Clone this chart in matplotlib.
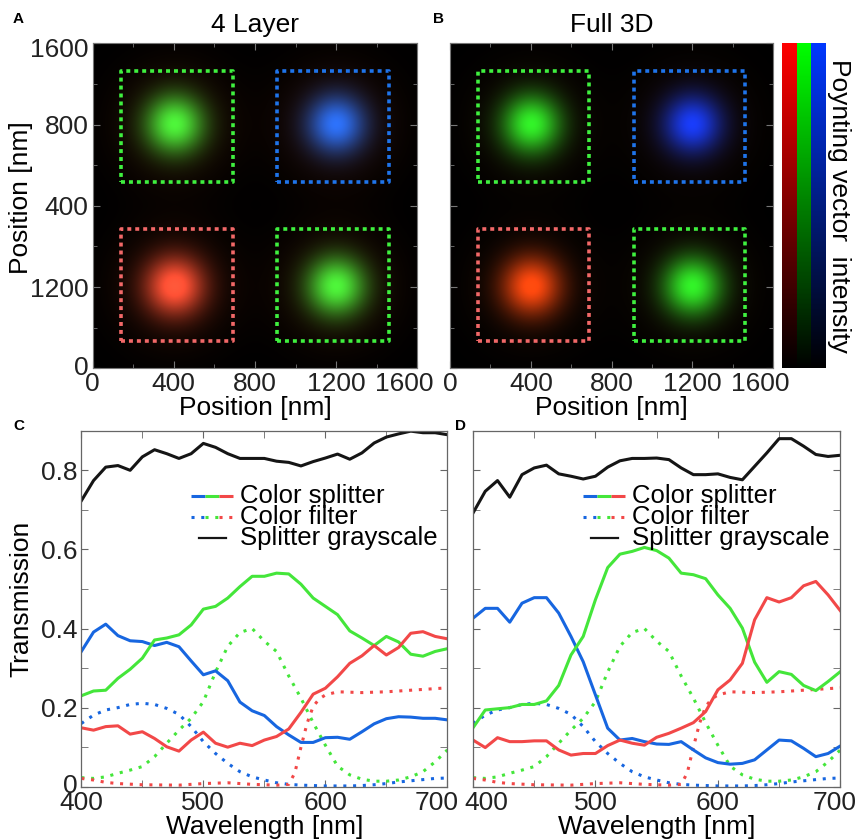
import numpy as np
import matplotlib as mpl
import matplotlib.pyplot as plt
from matplotlib.transforms import ScaledTranslation
from matplotlib.ticker import MultipleLocator

mpl.rcParams['font.family'] = ['Liberation Sans', 'DejaVu Sans']

# --- field maps: spot centres [nm], peak colours, detector boxes ---
spot_x = [400, 1200, 400, 1200]
spot_y = [1200, 1200, 400, 400]
spot_rgb_4layer = [(0.15, 0.92, 0.22), (0.02, 0.40, 0.98), (0.95, 0.30, 0.22), (0.15, 0.92, 0.22)]
spot_rgb_full3d = [(0.10, 0.92, 0.15), (0.00, 0.20, 0.98), (0.95, 0.26, 0.05), (0.10, 0.92, 0.15)]
halo_rgb_4layer = (0.16, 0.05, 0.01)
halo_rgb_full3d = (0.10, 0.04, 0.01)
spot_sigma = 100
halo_sigma = 190
box_x0 = [140, 910, 140, 910]
box_y0 = [915, 915, 135, 135]
box_size = 550
box_colors = ['#3ff03f', '#1f74ea', '#f26868', '#3ff03f']

pos_ticks = [0, 400, 800, 1200, 1600]
pos_xlabels = ['0', '400', '800', '1200', '1600']
pos_ylabels = ['0', '1200', '400', '800', '1600']

# --- transmission spectra ---
wl = list(range(400, 701, 10))
gray_c = [0.723, 0.774, 0.808, 0.812, 0.800, 0.834, 0.852, 0.842, 0.830, 0.842, 0.868,
          0.858, 0.842, 0.830, 0.830, 0.830, 0.823, 0.820, 0.811, 0.822, 0.831, 0.841,
          0.828, 0.844, 0.869, 0.884, 0.892, 0.899, 0.895, 0.895, 0.890]
blue_c = [0.342, 0.391, 0.411, 0.382, 0.369, 0.367, 0.357, 0.365, 0.354, 0.318, 0.283,
          0.293, 0.268, 0.214, 0.192, 0.180, 0.152, 0.131, 0.112, 0.112, 0.124, 0.125,
          0.120, 0.139, 0.159, 0.172, 0.177, 0.176, 0.173, 0.173, 0.169]
green_c = [0.230, 0.242, 0.244, 0.274, 0.297, 0.325, 0.371, 0.376, 0.384, 0.409, 0.449,
           0.456, 0.477, 0.506, 0.532, 0.532, 0.540, 0.538, 0.512, 0.477, 0.456, 0.435,
           0.394, 0.376, 0.357, 0.380, 0.366, 0.335, 0.330, 0.342, 0.349]
red_c = [0.149, 0.143, 0.152, 0.154, 0.133, 0.139, 0.122, 0.101, 0.090, 0.118, 0.138,
         0.110, 0.100, 0.110, 0.104, 0.118, 0.127, 0.146, 0.188, 0.234, 0.249, 0.278,
         0.312, 0.331, 0.357, 0.333, 0.352, 0.388, 0.392, 0.380, 0.374]

gray_d = [0.692, 0.747, 0.774, 0.732, 0.789, 0.806, 0.813, 0.791, 0.785, 0.778, 0.785,
          0.808, 0.824, 0.830, 0.830, 0.831, 0.827, 0.806, 0.789, 0.789, 0.791, 0.782,
          0.776, 0.810, 0.844, 0.880, 0.880, 0.861, 0.840, 0.835, 0.838]
blue_d = [0.426, 0.451, 0.451, 0.416, 0.464, 0.478, 0.478, 0.439, 0.380, 0.316, 0.232,
          0.148, 0.118, 0.122, 0.114, 0.108, 0.107, 0.114, 0.093, 0.073, 0.061, 0.057,
          0.059, 0.068, 0.093, 0.118, 0.116, 0.097, 0.076, 0.084, 0.103]
green_d = [0.149, 0.194, 0.197, 0.200, 0.208, 0.208, 0.217, 0.256, 0.333, 0.380, 0.473,
           0.554, 0.588, 0.595, 0.605, 0.597, 0.578, 0.540, 0.536, 0.526, 0.485, 0.451,
           0.401, 0.315, 0.264, 0.291, 0.284, 0.256, 0.243, 0.266, 0.291]
red_d = [0.118, 0.099, 0.124, 0.114, 0.114, 0.116, 0.116, 0.093, 0.080, 0.084, 0.084,
         0.104, 0.118, 0.110, 0.105, 0.125, 0.135, 0.148, 0.162, 0.190, 0.245, 0.270,
         0.312, 0.422, 0.478, 0.467, 0.478, 0.508, 0.519, 0.485, 0.445]

# colour filter reference curves (same in C and D)
filt_blue = [0.160, 0.181, 0.194, 0.200, 0.208, 0.211, 0.208, 0.198, 0.183, 0.152, 0.114,
             0.084, 0.059, 0.038, 0.025, 0.017, 0.010, 0.006, 0.004, 0.003, 0.002, 0.002,
             0.002, 0.003, 0.005, 0.008, 0.012, 0.015, 0.018, 0.021, 0.022]
filt_green = [0.023, 0.021, 0.025, 0.034, 0.042, 0.051, 0.076, 0.110, 0.143, 0.173, 0.215,
              0.290, 0.355, 0.390, 0.400, 0.368, 0.342, 0.280, 0.224, 0.162, 0.105, 0.052,
              0.030, 0.019, 0.014, 0.014, 0.017, 0.025, 0.038, 0.063, 0.093]
red_filt_wl = [400, 410, 420, 430, 450, 480, 500, 520, 540, 560, 570, 575, 580, 585,
               590, 595, 600, 610, 630, 650, 670, 690, 700]
filt_red = [0.021, 0.017, 0.011, 0.008, 0.005, 0.004, 0.008, 0.010, 0.006, 0.004, 0.006,
            0.035, 0.100, 0.160, 0.203, 0.222, 0.232, 0.240, 0.238, 0.240, 0.244, 0.248, 0.250]

BLUE, GREEN, RED = '#1766e0', '#44e63a', '#f24848'
LW = 2.2
DOTS = (1.0, 2.2)
TICK_FS = 19
LABEL_FS = 19


def field_map(rgbs, halo):
    g = np.linspace(0, 1600, 160)
    xx, yy = np.meshgrid(g, g)
    img = np.zeros((160, 160, 3))
    for sx, sy, rgb in zip(spot_x, spot_y, rgbs):
        r2 = (xx - sx) ** 2 + (yy - sy) ** 2
        core = np.exp(-r2 / (2 * spot_sigma ** 2))
        glow = np.exp(-r2 / (2 * halo_sigma ** 2))
        img += np.array(rgb) * core[..., None] + np.array(halo) * glow[..., None]
    return np.clip(img, 0, 1)


def shift(label, dx=0, dy=0):
    fig = label.figure
    label.set_transform(label.get_transform() + ScaledTranslation(dx / 100, dy / 100, fig.dpi_scale_trans))


fig = plt.figure(figsize=(8.58, 8.39), dpi=100)
axA = fig.add_axes([0.1080, 0.5610, 0.3783, 0.3874])
axB = fig.add_axes([0.5245, 0.5610, 0.3768, 0.3874])
cax = fig.add_axes([0.9118, 0.5610, 0.0506, 0.3874])
axC = fig.add_axes([0.0948, 0.0623, 0.4266, 0.4243])
axD = fig.add_axes([0.5513, 0.0623, 0.4281, 0.4243])

# --- top: field maps ---
for ax, rgbs, halo, title in [(axA, spot_rgb_4layer, halo_rgb_4layer, '4 Layer'),
                              (axB, spot_rgb_full3d, halo_rgb_full3d, 'Full 3D')]:
    ax.imshow(field_map(rgbs, halo), origin='lower', extent=[0, 1600, 0, 1600],
              aspect='auto', interpolation='bilinear')
    for bx, by, bc in zip(box_x0, box_y0, box_colors):
        ax.plot([bx, bx + box_size, bx + box_size, bx, bx],
                [by, by, by + box_size, by + box_size, by],
                color=bc, lw=2.6, dashes=(1.1, 1.1), dash_capstyle='butt')
    ax.set_xlim(0, 1600)
    ax.set_ylim(0, 1600)
    ax.set_xticks(pos_ticks, pos_xlabels)
    ax.set_yticks(pos_ticks, pos_ylabels)
    ax.xaxis.set_minor_locator(MultipleLocator(200))
    ax.yaxis.set_minor_locator(MultipleLocator(200))
    ax.tick_params(which='both', direction='in', top=True, right=True, color='#777',
                   labelsize=TICK_FS, pad=3, labelcolor='#222')
    ax.tick_params(which='major', length=5)
    ax.tick_params(which='minor', length=3)
    ax.set_xlabel('Position [nm]', fontsize=LABEL_FS, labelpad=0)
    ax.set_title(title, fontsize=LABEL_FS, pad=8)
    for s in ax.spines.values():
        s.set_color('#777')
    shift(ax.get_xticklabels()[-1], dx=-13)

axA.set_ylabel('Position [nm]', fontsize=LABEL_FS)
axA.yaxis.set_label_coords(-0.184, 0.525)
shift(axA.get_yticklabels()[-1], dy=-4)
shift(axA.get_yticklabels()[0], dy=3)
axB.tick_params(labelleft=False)

# colour bar: three intensity ramps
ramp = np.linspace(0, 1, 256)
bar = np.zeros((256, 3, 3))
bar[:, 0, 0] = ramp
bar[:, 1, 1] = ramp
bar[:, 2, 1] = 0.22 * ramp
bar[:, 2, 2] = ramp
cax.imshow(bar, origin='lower', aspect='auto', extent=[0, 3, 0, 1], interpolation='nearest')
cax.set_xticks([])
cax.set_yticks([])
for s in cax.spines.values():
    s.set_visible(False)
fig.text(839 / 858, 0.7547, 'Poynting vector  intensity', rotation=-90,
         ha='center', va='center', fontsize=LABEL_FS)

# --- bottom: spectra ---
for ax, gray, b, g, r in [(axC, gray_c, blue_c, green_c, red_c),
                          (axD, gray_d, blue_d, green_d, red_d)]:
    ax.plot(wl, filt_blue, color=BLUE, lw=LW, dashes=DOTS, dash_capstyle='butt')
    ax.plot(wl, filt_green, color=GREEN, lw=LW, dashes=DOTS, dash_capstyle='butt')
    ax.plot(red_filt_wl, filt_red, color=RED, lw=LW, dashes=DOTS, dash_capstyle='butt')
    ax.plot(wl, b, color=BLUE, lw=LW)
    ax.plot(wl, g, color=GREEN, lw=LW)
    ax.plot(wl, r, color=RED, lw=LW)
    ax.plot(wl, gray, color='#151515', lw=LW)
    ax.set_xlim(400, 700)
    ax.set_ylim(0, 0.9)
    ax.set_xticks([400, 500, 600, 700], ['400', '500', '600', '700'])
    ax.set_yticks([0, 0.2, 0.4, 0.6, 0.8], ['0', '0.2', '0.4', '0.6', '0.8'])
    ax.xaxis.set_minor_locator(MultipleLocator(50))
    ax.yaxis.set_minor_locator(MultipleLocator(0.1))
    ax.tick_params(which='both', direction='in', top=True, right=True, color='#666',
                   labelsize=TICK_FS, pad=3, labelcolor='#222')
    ax.tick_params(which='both', length=5)
    for s in ax.spines.values():
        s.set_color('#666')
        s.set_linewidth(0.9)
    ax.set_xlabel('Wavelength [nm]', fontsize=LABEL_FS, labelpad=0)

    # key
    rows = [0.818, 0.759, 0.700]
    x0, seg = 0.30, 0.038
    for k, c in enumerate([BLUE, GREEN, RED]):
        ax.plot([x0 + k * seg, x0 + (k + 1) * seg], [rows[0]] * 2, color=c, lw=LW,
                transform=ax.transAxes, solid_capstyle='butt')
        ax.plot([x0 + k * seg, x0 + (k + 1) * seg], [rows[1]] * 2, color=c, lw=LW,
                dashes=DOTS, dash_capstyle='butt', transform=ax.transAxes)
    ax.plot([0.322, 0.396], [rows[2]] * 2, color='#151515', lw=1.6, transform=ax.transAxes)
    for yy, txt in zip(rows, ['Color splitter', 'Color filter', 'Splitter grayscale']):
        ax.text(0.434, yy - 0.02, txt, transform=ax.transAxes, fontsize=18.5, va='baseline')

axC.set_ylabel('Transmission', fontsize=LABEL_FS)
axC.yaxis.set_label_coords(-0.132, 0.527)
axD.tick_params(labelleft=False)
shift(axC.get_yticklabels()[0], dy=3)
shift(axC.get_xticklabels()[-1], dx=-11)
shift(axD.get_xticklabels()[0], dx=13)
shift(axD.get_xticklabels()[-1], dx=-6)

# panel letters
for x, y, s in [(13, 23, 'A'), (433, 23, 'B'), (13, 430, 'C'), (455, 430, 'D')]:
    fig.text(x / 858, 1 - y / 839, s, fontsize=11, fontweight='bold', va='baseline')

fig.savefig('out.png', dpi=100)
